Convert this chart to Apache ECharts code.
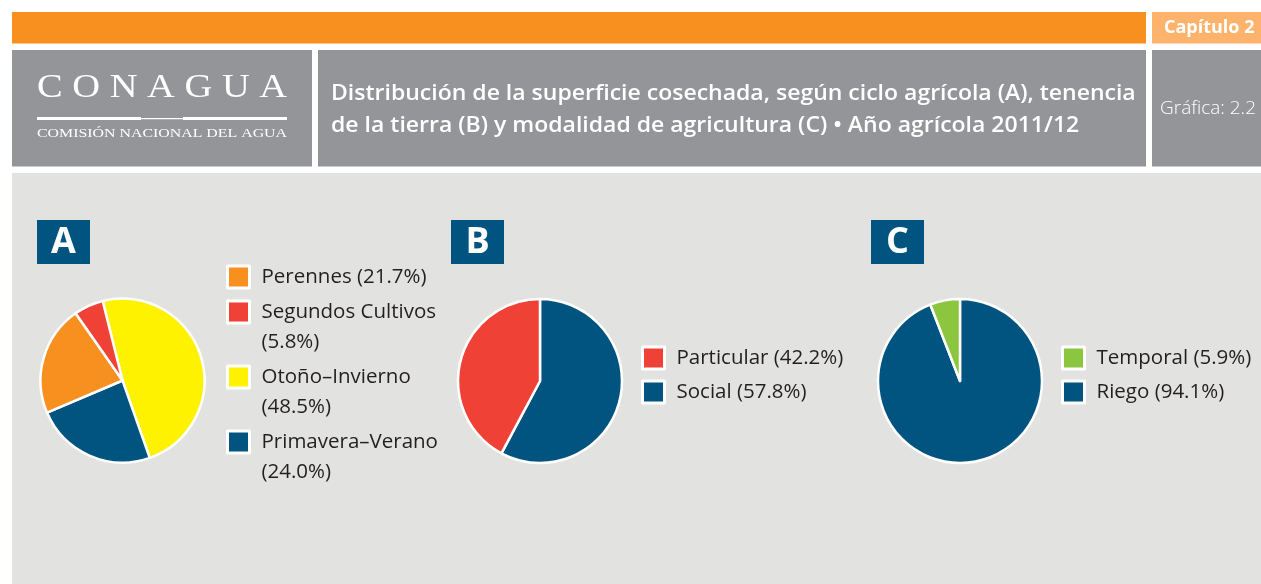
<!DOCTYPE html>
<html>
<head>
<meta charset="utf-8">
<title>Distribución de la superficie cosechada 2011/12</title>
<script src="https://cdn.jsdelivr.net/npm/echarts@6.0.0/dist/echarts.min.js"></script>
<style>
	html, body { margin: 0; padding: 0; background: #fff; }
	#chart { width: 1261px; height: 584px; }
</style>
</head>
<body>
<div id="chart"></div>
<script>
// (A) ciclo agrícola, en el orden en que se dibujan los sectores
var cicloNames = ['Otoño–Invierno', 'Primavera–Verano', 'Perennes', 'Segundos Cultivos'];
var cicloValues = [48.5, 24.0, 21.7, 5.8];
var cicloLegend = ['Perennes', 'Segundos Cultivos', 'Otoño–Invierno', 'Primavera–Verano'];

// (B) tenencia de la tierra
var tenenciaNames = ['Social', 'Particular'];
var tenenciaValues = [57.8, 42.2];
var tenenciaLegend = ['Particular', 'Social'];

// (C) modalidad de agricultura
var modalidadNames = ['Riego', 'Temporal'];
var modalidadValues = [94.1, 5.9];
var modalidadLegend = ['Temporal', 'Riego'];

var titleLines = [
	'Distribución de la superficie cosechada, según ciclo agrícola (A), tenencia',
	'de la tierra (B) y modalidad de agricultura (C) • Año agrícola 2011/12'
];

var colors = {
	'Perennes': '#f7901e',
	'Segundos Cultivos': '#ef4136',
	'Otoño–Invierno': '#fff200',
	'Primavera–Verano': '#00547f',
	'Particular': '#ef4136',
	'Social': '#00547f',
	'Temporal': '#8cc63f',
	'Riego': '#00547f'
};

var FONT = '"Open Sans", "Noto Sans", sans-serif';
var SERIF = '"Liberation Serif", "DejaVu Serif", serif';

// nombre -> valor, para los textos de la leyenda
var valueOf = {};
function addValues(names, values) {
	names.forEach(function (n, i) { valueOf[n] = values[i]; });
}
addValues(cicloNames, cicloValues);
addValues(tenenciaNames, tenenciaValues);
addValues(modalidadNames, modalidadValues);

function pieData(names, values) {
	return names.map(function (n, i) {
		return { name: n, value: values[i], itemStyle: { color: colors[n] } };
	});
}

function pieSeries(names, values, center, startAngle) {
	return {
		type: 'pie',
		center: center,
		radius: 82,
		startAngle: startAngle,
		clockwise: true,
		silent: true,
		label: { show: false },
		labelLine: { show: false },
		emphasis: { disabled: true },
		itemStyle: { borderColor: '#fff', borderWidth: 2.5 },
		data: pieData(names, values)
	};
}

function legend(names, left, top, gap, wrap) {
	return {
		data: names,
		orient: 'vertical',
		left: left,
		top: top,
		padding: 0,
		itemGap: gap,
		itemWidth: 22,
		itemHeight: 22,
		icon: 'rect',
		selectedMode: false,
		itemStyle: { borderColor: '#fff', borderWidth: 3 },
		textStyle: {
			fontFamily: FONT,
			fontSize: 20.5,
			color: '#231f20',
			lineHeight: 30,
			padding: [0, 0, 0, 7]
		},
		formatter: function (name) {
			var pct = '(' + valueOf[name].toFixed(1) + '%)';
			// linea en blanco arriba para que el cuadro quede en la primera linea
			if (wrap && name.length > 10) return '\n' + name + '\n' + pct;
			return name + ' ' + pct;
		}
	};
}

function letterBox(letter, x) {
	return [{
		type: 'rect',
		shape: { x: x, y: 220, width: 53, height: 44 },
		style: { fill: '#00547f' }
	}, {
		type: 'text',
		x: x + 26.5,
		y: 243,
		style: {
			text: letter, fill: '#fff', fontFamily: FONT, fontWeight: 'bold', fontSize: 36,
			align: 'center', verticalAlign: 'middle'
		}
	}];
}

var graphics = [
	// franja naranja y pestaña de capitulo
	{ type: 'rect', shape: { x: 12, y: 12, width: 1134, height: 31.5 }, style: { fill: '#f7901e' } },
	{ type: 'rect', shape: { x: 1152, y: 12, width: 109, height: 31.5 }, style: { fill: '#fdb36b' } },
	{
		type: 'text', x: 1164, y: 28,
		style: { text: 'Capítulo 2', fill: '#fff', fontFamily: FONT, fontWeight: 'bold', fontSize: 18, verticalAlign: 'middle' }
	},
	// cajas grises del encabezado
	{ type: 'rect', shape: { x: 12, y: 50, width: 300, height: 116.5 }, style: { fill: '#939598' } },
	{ type: 'rect', shape: { x: 318, y: 50, width: 828, height: 116.5 }, style: { fill: '#939598' } },
	{ type: 'rect', shape: { x: 1152, y: 50, width: 109, height: 116.5 }, style: { fill: '#939598' } },
	// logo
	{
		type: 'text', x: 37, y: 88, scaleX: 1.166,
		style: { text: 'C O N A G U A', fill: '#fff', fontFamily: SERIF, fontSize: 33, verticalAlign: 'middle' }
	},
	{ type: 'rect', shape: { x: 37, y: 117, width: 104, height: 3 }, style: { fill: '#fff' } },
	{ type: 'rect', shape: { x: 141, y: 118, width: 42, height: 1.3 }, style: { fill: '#fff' } },
	{ type: 'rect', shape: { x: 183, y: 117, width: 104, height: 3 }, style: { fill: '#fff' } },
	{
		type: 'text', x: 37, y: 133, scaleX: 1.176,
		style: { text: 'COMISIÓN NACIONAL DEL AGUA', fill: '#fff', fontFamily: SERIF, fontSize: 13.5, verticalAlign: 'middle' }
	},
	// titulo
	{
		type: 'text', x: 331, y: 110, scaleX: 1.07,
		style: {
			text: titleLines.join('\n'), fill: '#fff', fontFamily: FONT, fontWeight: 600, fontSize: 21.5,
			lineHeight: 32.5, verticalAlign: 'middle'
		}
	},
	{
		type: 'text', x: 1160, y: 109,
		style: { text: 'Gráfica: 2.2', fill: '#fff', fontFamily: FONT, fontWeight: 300, fontSize: 19, verticalAlign: 'middle' }
	},
	// fondo del area de graficas
	{ type: 'rect', z: -10, shape: { x: 12, y: 173, width: 1249, height: 411 }, style: { fill: '#e2e2e0' } }
].concat(letterBox('A', 37), letterBox('B', 451), letterBox('C', 871));

var chart = echarts.init(document.getElementById('chart'), null, { renderer: 'canvas' });
chart.setOption({
	animation: false,
	backgroundColor: '#fff',
	graphic: graphics,
	legend: [
		legend(cicloLegend, 226, 262, -25, true),
		legend(tenenciaLegend, 641, 343, 4, false),
		legend(modalidadLegend, 1061, 343, 4, false)
	],
	series: [
		pieSeries(cicloNames, cicloValues, [122.5, 380.5], 104),
		pieSeries(tenenciaNames, tenenciaValues, [540, 381], 90),
		pieSeries(modalidadNames, modalidadValues, [960, 381], 90)
	]
});
</script>
</body>
</html>
